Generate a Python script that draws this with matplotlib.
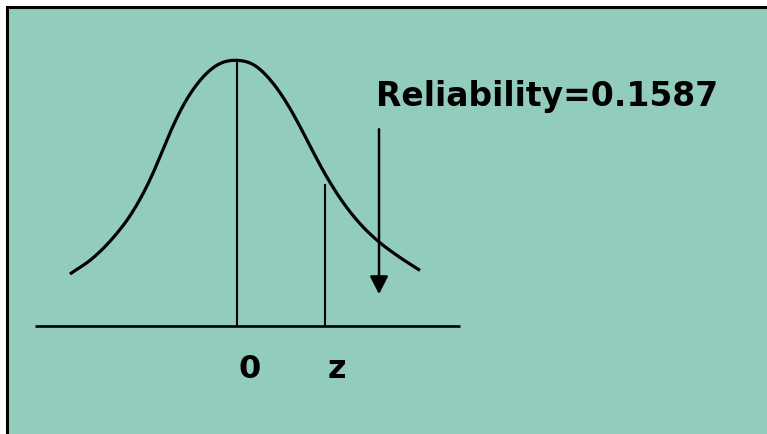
import numpy as np
import matplotlib
matplotlib.use("Agg")
import matplotlib.pyplot as plt
from matplotlib.patches import Rectangle

# ---- data (x in z-units, y in density units) ----
curve_x = [-1.898, -1.636, -1.409, -1.216, -1.068, -0.955, -0.875, -0.761, -0.614,
           -0.420, -0.227, 0.000, 0.205, 0.394, 0.583, 0.735, 0.849, 1.000, 1.190,
           1.417, 1.606, 1.833, 2.080]
curve_y = [0.0785, 0.1028, 0.1330, 0.1663, 0.1997, 0.2306, 0.2555, 0.2918, 0.3321,
           0.3706, 0.3937, 0.4010, 0.3930, 0.3690, 0.3327, 0.2963, 0.2669, 0.2297,
           0.1894, 0.1517, 0.1278, 0.1052, 0.0839]
z_value = 1.0
z_height = 0.213
mean_value = 0.0
mean_height = 0.401
reliability = 0.1587
axis_range = [-2.295, 2.534]
arrow_x = 1.614
arrow_from = 0.297
arrow_to = 0.048
tick_labels = ["0", "z"]

BG = "#92CCBC"


def smooth_hermite(xs, ys, n=16):
    """Draw a smooth line through the read points (cubic Hermite in x)."""
    x = np.asarray(xs, float)
    y = np.asarray(ys, float)
    d = np.diff(y) / np.diff(x)
    h = np.diff(x)
    m = np.empty_like(y)
    m[0], m[-1] = d[0], d[-1]
    for i in range(1, len(x) - 1):
        m[i] = (h[i] * d[i - 1] + h[i - 1] * d[i]) / (h[i - 1] + h[i])
    ox, oy = [], []
    for i in range(len(x) - 1):
        t = np.linspace(0, 1, n, endpoint=False)
        h00 = 2 * t**3 - 3 * t**2 + 1
        h10 = t**3 - 2 * t**2 + t
        h01 = -2 * t**3 + 3 * t**2
        h11 = t**3 - t**2
        ox.append(x[i] + t * h[i])
        oy.append(h00 * y[i] + h10 * h[i] * m[i] + h01 * y[i + 1] + h11 * h[i] * m[i + 1])
    ox.append([x[-1]])
    oy.append([y[-1]])
    return np.concatenate(ox), np.concatenate(oy)


fig = plt.figure(figsize=(7.67, 4.34), dpi=100, facecolor="white")
ax = fig.add_axes([0, 0, 1, 1])
ax.set_xlim(-2.693, 6.023)
ax.set_ylim(-0.16302, 0.49208)
ax.axis("off")

# background panel with border (right/bottom edges outside the canvas)
ax.add_patch(Rectangle((6.5 / 767, -0.05), 1.2, 1 - 7.5 / 434 + 0.05,
                       transform=ax.transAxes, facecolor=BG, edgecolor="black",
                       linewidth=2.2, clip_on=False, zorder=0))

sx, sy = smooth_hermite(curve_x, curve_y)
ax.plot(sx, sy, color="black", lw=2.3, solid_capstyle="butt", zorder=3)

ax.plot(axis_range, [0, 0], color="black", lw=1.9, solid_capstyle="butt", zorder=2)
ax.plot([mean_value, mean_value], [0, mean_height], color="black", lw=1.5, zorder=2)
ax.plot([z_value, z_value], [0, z_height], color="black", lw=1.5, zorder=2)

ax.annotate("", xy=(arrow_x, arrow_to), xytext=(arrow_x, arrow_from),
            arrowprops=dict(arrowstyle="-|>,head_length=1.08,head_width=0.55",
                            mutation_scale=10, lw=1.8, color="black",
                            shrinkA=0, shrinkB=0), zorder=4)

ax.text(1.58, 0.332, f"Reliability={reliability:.4f}", fontsize=23.8,
        fontweight="bold", family="DejaVu Sans", ha="left", va="baseline",
        color="black", zorder=5)

for lab, xv in zip(tick_labels, [mean_value, z_value]):
    ax.text(xv + 0.14, -0.0785, lab, fontsize=23, fontweight="bold",
            family="DejaVu Sans", ha="center", va="baseline", color="black")

fig.savefig("out.png", dpi=100, facecolor="white")
